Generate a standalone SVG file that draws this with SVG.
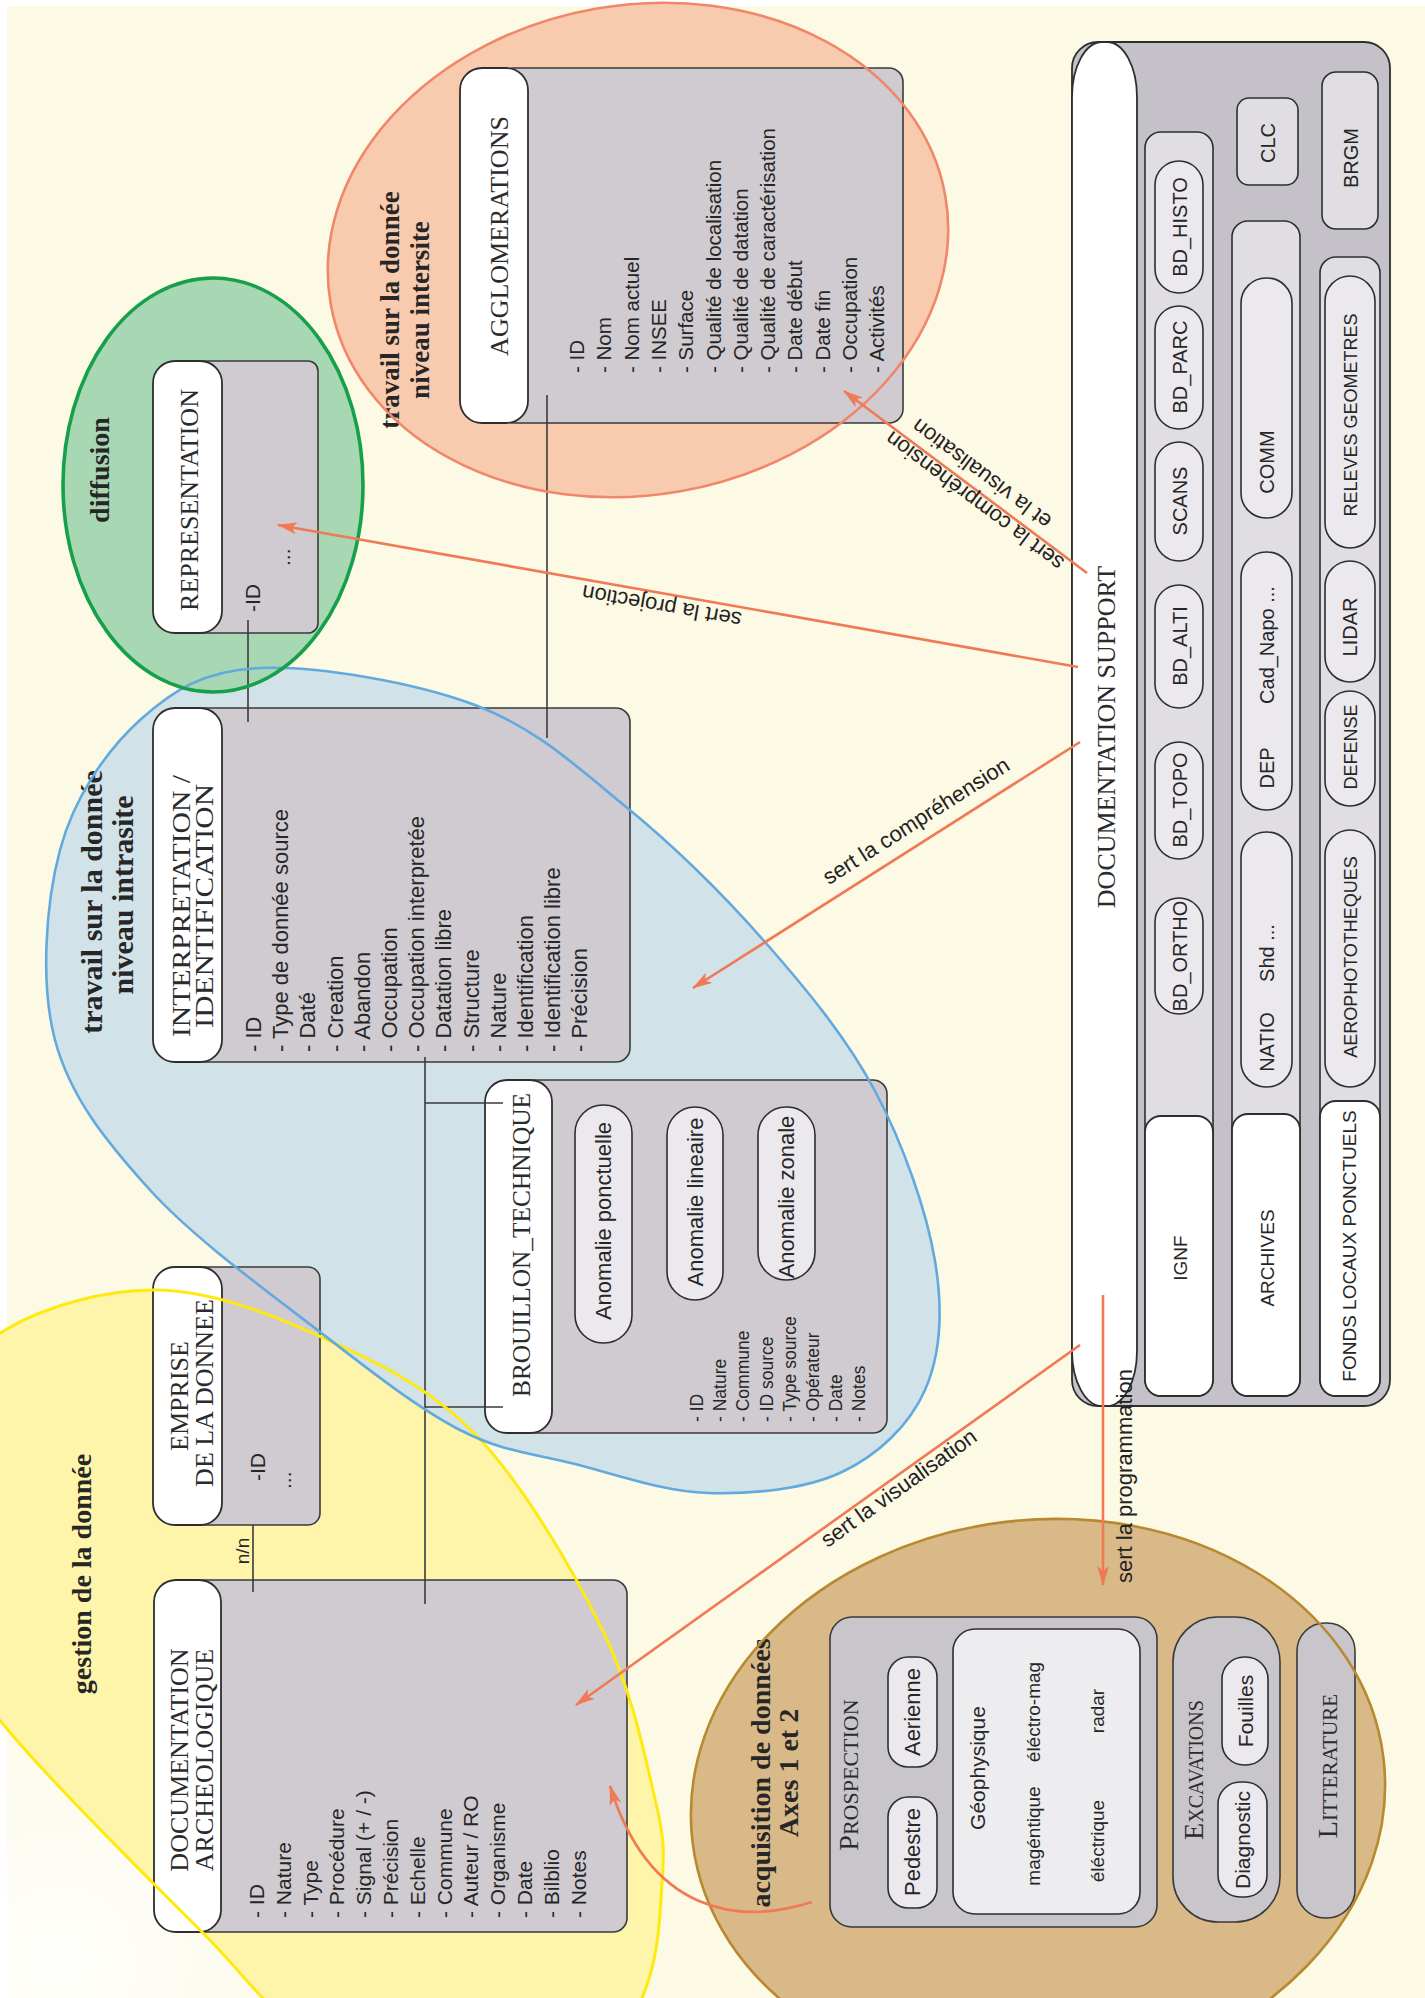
<svg xmlns="http://www.w3.org/2000/svg" width="1425" height="1998" viewBox="0 0 1425 1998">
<defs>
<style>
.body{fill:#CFCBD1;stroke:#3a3a3a;stroke-width:1.6}
.hdr{fill:#FFFFFF;stroke:#2e2e2e;stroke-width:1.8}
.pill{fill:#EBE9EE;stroke:#2e2e2e;stroke-width:1.6}
.strip{fill:#E0DEE3;stroke:#2e2e2e;stroke-width:1.6}
.sbox{fill:#C9C6CB;stroke:#3a3a3a;stroke-width:1.6}
.con{stroke:#3a3a3a;stroke-width:1.6;fill:none}
.arr{stroke:#F07A55;stroke-width:2.6;fill:none;marker-end:url(#ah)}
.title{font-family:"Liberation Serif","Times New Roman",serif;font-size:26px;fill:#2b2b2b}
.sans{font-family:"Liberation Sans",Arial,sans-serif;fill:#262626}
.lab{font-family:"Liberation Serif","Times New Roman",serif;font-weight:bold;fill:#262626}
.alab{font-family:"Liberation Sans",Arial,sans-serif;font-size:22px;fill:#222}
.ol{fill:none}
</style>
<marker id="ah" viewBox="0 0 20 12" refX="19" refY="6" markerWidth="20" markerHeight="12" markerUnits="userSpaceOnUse" orient="auto"><path d="M0,0 L20,6 L0,12 L5,6 Z" fill="#F07A55"/></marker>
<radialGradient id="glow" cx="60" cy="1960" r="330" gradientUnits="userSpaceOnUse">
<stop offset="0" stop-color="#FFFFFF" stop-opacity="0.85"/>
<stop offset="1" stop-color="#FFFFFF" stop-opacity="0"/>
</radialGradient>
</defs>

<rect x="0" y="0" width="1425" height="1998" fill="#FFFFFF"/>
<rect x="7" y="6" width="1418" height="1992" fill="#FCF9E5"/>
<rect x="7" y="1600" width="420" height="398" fill="url(#glow)"/>

<g id="zones">
<path id="zone-gestion" d="M -60,1420 C -48.8,1371.5 -29.2,1350.7 7,1329 C 43.2,1307.3 105.3,1289 157,1290 C 208.7,1291 264,1311 317,1335 C 370,1359 427.5,1385 475,1434 C 522.5,1483 572,1568.2 602,1629 C 632,1689.8 645,1756.5 655,1799 C 665,1841.5 664.2,1850.8 662,1884 C 659.8,1917.2 659,1958.7 642,1998 C 625,2037.3 612,2111.3 560,2120 C 508,2128.7 390,2081.7 330,2050 C 270,2018.3 253.7,1983.3 200,1930 C 146.3,1876.7 51.3,1781.7 8,1730 C -35.3,1678.3 -48.7,1671.7 -60,1620 C -71.3,1568.3 -71.2,1468.5 -60,1420 Z" fill="#FEF5AA"/>
<path id="zone-intrasite" d="M 260,668 C 315.8,665.5 414.2,682 475,705 C 535.8,728 576.7,766.5 625,806 C 673.3,845.5 723.3,894.5 765,942 C 806.7,989.5 846.7,1037.8 875,1091 C 903.3,1144.2 926.7,1211.2 935,1261 C 943.3,1310.8 940.5,1354.8 925,1390 C 909.5,1425.2 878.2,1454.8 842,1472 C 805.8,1489.2 752.5,1494.3 708,1493 C 663.5,1491.7 616.3,1474.5 575,1464 C 533.7,1453.5 502.5,1452 460,1430 C 417.5,1408 371.7,1372 320,1332 C 268.3,1292 194.2,1238.7 150,1190 C 105.8,1141.3 70,1096.7 55,1040 C 40,983.3 45.8,903.3 60,850 C 74.2,796.7 106.7,750.3 140,720 C 173.3,689.7 204.2,670.5 260,668 Z" fill="#D1E3E8"/>
<ellipse id="zone-intersite" cx="638" cy="250" rx="312" ry="245" transform="rotate(-10 638 250)" fill="#F9CBAE"/>
<ellipse id="zone-diffusion" cx="213" cy="485" rx="150" ry="207" fill="#A8D8B3"/>
<ellipse id="zone-acquisition" cx="1038" cy="1800" rx="348" ry="280" transform="rotate(-7 1038 1800)" fill="#D9B988"/>
</g>

<g id="zone-labels">
<text class="lab" font-size="27" text-anchor="middle" x="399" y="310" transform="rotate(-90 399 310)">travail sur la donnée</text>
<text class="lab" font-size="27" text-anchor="middle" x="429" y="310" transform="rotate(-90 429 310)">niveau intersite</text>
<text class="lab" font-size="28" text-anchor="middle" x="109" y="470" transform="rotate(-90 109 470)">diffusion</text>
<text class="lab" font-size="30" text-anchor="middle" x="102" y="902" transform="rotate(-90 102 902)">travail sur la donnée</text>
<text class="lab" font-size="30" text-anchor="middle" x="133" y="895" transform="rotate(-90 133 895)">niveau intrasite</text>
<text class="lab" font-size="28" text-anchor="middle" x="91" y="1574" transform="rotate(-90 91 1574)">gestion de la donnée</text>
<text class="lab" font-size="28" text-anchor="middle" x="770" y="1773" transform="rotate(-90 770 1773)">acquisition de données</text>
<text class="lab" font-size="28" text-anchor="middle" x="798" y="1773" transform="rotate(-90 798 1773)">Axes 1 et 2</text>
</g>

<g id="node-representation">
<rect class="body" x="190" y="361" width="128" height="272" rx="10"/>
<rect class="hdr" x="153" y="361" width="69" height="272" rx="22"/>
<text class="title" text-anchor="middle" x="198" y="500" transform="rotate(-90 198 500)">REPRESENTATION</text>
<text class="sans" font-size="21" x="260" y="612" transform="rotate(-90 260 612)">-ID</text>
<text class="sans" font-size="21" x="290" y="566" transform="rotate(-90 290 566)">...</text>
</g>

<g id="node-agglomerations">
<rect class="body" x="500" y="68" width="403" height="355" rx="14"/>
<rect class="hdr" x="460" y="68" width="68" height="355" rx="22"/>
<text class="title" text-anchor="middle" x="508" y="236" transform="rotate(-90 508 236)">AGGLOMERATIONS</text>
<text class="sans" font-size="20.5" x="584" y="373" transform="rotate(-90 584 373)"><tspan x="584" dy="0">- ID</tspan><tspan x="584" dy="27.3">- Nom</tspan><tspan x="584" dy="27.3">- Nom actuel</tspan><tspan x="584" dy="27.3">- INSEE</tspan><tspan x="584" dy="27.3">- Surface</tspan><tspan x="584" dy="27.3">- Qualité de localisation</tspan><tspan x="584" dy="27.3">- Qualité de datation</tspan><tspan x="584" dy="27.3">- Qualité de caractérisation</tspan><tspan x="584" dy="27.3">- Date début</tspan><tspan x="584" dy="27.3">- Date fin</tspan><tspan x="584" dy="27.3">- Occupation</tspan><tspan x="584" dy="27.3">- Activités</tspan></text>
</g>

<g id="node-interpretation">
<rect class="body" x="190" y="708" width="440" height="354" rx="14"/>
<rect class="hdr" x="153" y="708" width="69" height="354" rx="22"/>
<text class="title" text-anchor="middle" x="190" y="906" transform="rotate(-90 190 906)" textLength="262" lengthAdjust="spacingAndGlyphs">INTERPRETATION /</text>
<text class="title" text-anchor="middle" x="213" y="906" transform="rotate(-90 213 906)" textLength="244" lengthAdjust="spacingAndGlyphs">IDENTIFICATION</text>
<text class="sans" font-size="22" x="261" y="1052" transform="rotate(-90 261 1052)"><tspan x="261" dy="0">- ID</tspan><tspan x="261" dy="27.2">- Type de donnée source</tspan><tspan x="261" dy="27.2">- Daté</tspan><tspan x="261" dy="27.2">- Creation</tspan><tspan x="261" dy="27.2">- Abandon</tspan><tspan x="261" dy="27.2">- Occupation</tspan><tspan x="261" dy="27.2">- Occupation interpretée</tspan><tspan x="261" dy="27.2">- Datation libre</tspan><tspan x="261" dy="27.2">- Structure</tspan><tspan x="261" dy="27.2">- Nature</tspan><tspan x="261" dy="27.2">- Identification</tspan><tspan x="261" dy="27.2">- Identification libre</tspan><tspan x="261" dy="27.2">- Précision</tspan></text>
</g>

<g id="node-emprise">
<rect class="body" x="190" y="1267" width="130" height="258" rx="12"/>
<rect class="hdr" x="153" y="1267" width="69" height="258" rx="22"/>
<text class="title" text-anchor="middle" x="188" y="1396" transform="rotate(-90 188 1396)">EMPRISE</text>
<text class="title" text-anchor="middle" x="213" y="1393" transform="rotate(-90 213 1393)">DE LA DONNEE</text>
<text class="sans" font-size="21" x="265" y="1481" transform="rotate(-90 265 1481)">-ID</text>
<text class="sans" font-size="21" x="291" y="1489" transform="rotate(-90 291 1489)">...</text>
</g>

<g id="node-brouillon">
<rect class="body" x="520" y="1080" width="367" height="353" rx="14"/>
<rect class="hdr" x="485" y="1080" width="67" height="353" rx="22"/>
<text class="title" text-anchor="middle" x="530" y="1245" transform="rotate(-90 530 1245)" textLength="304" lengthAdjust="spacingAndGlyphs">BROUILLON_TECHNIQUE</text>
<rect class="pill" x="575" y="1105" width="57" height="238" rx="28"/>
<rect class="pill" x="667" y="1107" width="56" height="193" rx="28"/>
<rect class="pill" x="758" y="1107" width="57" height="173" rx="28"/>
<text class="sans" font-size="22" text-anchor="middle" x="611" y="1221" transform="rotate(-90 611 1221)">Anomalie ponctuelle</text>
<text class="sans" font-size="22" text-anchor="middle" x="703" y="1202" transform="rotate(-90 703 1202)">Anomalie lineaire</text>
<text class="sans" font-size="22" text-anchor="middle" x="794" y="1197" transform="rotate(-90 794 1197)">Anomalie zonale</text>
<text class="sans" font-size="17.5" x="703" y="1422" transform="rotate(-90 703 1422)"><tspan x="703" dy="0">- ID</tspan><tspan x="703" dy="23.2">- Nature</tspan><tspan x="703" dy="23.2">- Commune</tspan><tspan x="703" dy="23.2">- ID source</tspan><tspan x="703" dy="23.2">- Type source</tspan><tspan x="703" dy="23.2">- Opérateur</tspan><tspan x="703" dy="23.2">- Date</tspan><tspan x="703" dy="23.2">- Notes</tspan></text>
</g>

<g id="node-doc-archeologique">
<rect class="body" x="190" y="1580" width="437" height="352" rx="14"/>
<rect class="hdr" x="154" y="1580" width="67" height="352" rx="22"/>
<text class="title" text-anchor="middle" x="188" y="1760" transform="rotate(-90 188 1760)">DOCUMENTATION</text>
<text class="title" text-anchor="middle" x="213" y="1760" transform="rotate(-90 213 1760)">ARCHEOLOGIQUE</text>
<text class="sans" font-size="21" x="264" y="1918" transform="rotate(-90 264 1918)"><tspan x="264" dy="0">- ID</tspan><tspan x="264" dy="26.8">- Nature</tspan><tspan x="264" dy="26.8">- Type</tspan><tspan x="264" dy="26.8">- Procédure</tspan><tspan x="264" dy="26.8">- Signal (+ / -)</tspan><tspan x="264" dy="26.8">- Précision</tspan><tspan x="264" dy="26.8">- Echelle</tspan><tspan x="264" dy="26.8">- Commune</tspan><tspan x="264" dy="26.8">- Auteur / RO</tspan><tspan x="264" dy="26.8">- Organisme</tspan><tspan x="264" dy="26.8">- Date</tspan><tspan x="264" dy="26.8">- Bilblio</tspan><tspan x="264" dy="26.8">- Notes</tspan></text>
</g>

<g id="node-doc-support">
<rect x="1072" y="42" width="318" height="1364" rx="26" fill="#C4C2C8" stroke="#2e2e2e" stroke-width="1.8"/>
<rect x="1072" y="42" width="65" height="1364" rx="30" ry="55" fill="#FFFFFF" stroke="#2e2e2e" stroke-width="1.8"/>
<text class="title" text-anchor="middle" x="1115" y="737" transform="rotate(-90 1115 737)">DOCUMENTATION SUPPORT</text>
<rect class="strip" x="1145" y="132" width="68" height="1264" rx="16"/>
<rect class="strip" x="1232" y="221" width="68" height="1175" rx="16"/>
<rect class="strip" x="1320" y="257" width="60" height="1139" rx="16"/>
<rect class="hdr" x="1145" y="1116" width="68" height="280" rx="16"/>
<rect class="hdr" x="1232" y="1114" width="68" height="282" rx="16"/>
<rect class="hdr" x="1320" y="1101" width="60" height="295" rx="16"/>
<rect class="strip" x="1237" y="98" width="61" height="87" rx="12"/>
<rect class="strip" x="1322" y="72" width="56" height="157" rx="14"/>
<rect class="pill" x="1155" y="161" width="48" height="132" rx="24"/>
<rect class="pill" x="1155" y="306" width="48" height="123" rx="24"/>
<rect class="pill" x="1155" y="442" width="48" height="119" rx="24"/>
<rect class="pill" x="1155" y="585" width="48" height="123" rx="24"/>
<rect class="pill" x="1155" y="742" width="48" height="117" rx="24"/>
<rect class="pill" x="1155" y="898" width="48" height="116" rx="24"/>
<rect class="pill" x="1241" y="278" width="51" height="240" rx="25"/>
<rect class="pill" x="1241" y="552" width="51" height="258" rx="25"/>
<rect class="pill" x="1241" y="832" width="51" height="255" rx="25"/>
<rect class="pill" x="1325" y="276" width="50" height="272" rx="25"/>
<rect class="pill" x="1325" y="561" width="50" height="121" rx="25"/>
<rect class="pill" x="1325" y="691" width="50" height="115" rx="25"/>
<rect class="pill" x="1325" y="830" width="50" height="257" rx="25"/>
<g class="sans" font-size="20" text-anchor="middle">
<text x="1187" y="227" transform="rotate(-90 1187 227)">BD_HISTO</text>
<text x="1187" y="367" transform="rotate(-90 1187 367)">BD_PARC</text>
<text x="1187" y="501" transform="rotate(-90 1187 501)">SCANS</text>
<text x="1187" y="646" transform="rotate(-90 1187 646)">BD_ALTI</text>
<text x="1187" y="800" transform="rotate(-90 1187 800)">BD_TOPO</text>
<text x="1187" y="956" transform="rotate(-90 1187 956)">BD_ORTHO</text>
<text x="1274" y="462" transform="rotate(-90 1274 462)">COMM</text>
<text x="1274" y="645" transform="rotate(-90 1274 645)">Cad_Napo ...</text>
<text x="1274" y="768" transform="rotate(-90 1274 768)">DEP</text>
<text x="1274" y="953" transform="rotate(-90 1274 953)">Shd ...</text>
<text x="1274" y="1042" transform="rotate(-90 1274 1042)">NATIO</text>
<text x="1275" y="143" transform="rotate(-90 1275 143)">CLC</text>
<text x="1358" y="158" transform="rotate(-90 1358 158)">BRGM</text>
<text x="1357" y="627" transform="rotate(-90 1357 627)">LIDAR</text>
</g>
<g class="sans" font-size="18" text-anchor="middle">
<text x="1357" y="415" transform="rotate(-90 1357 415)">RELEVES GEOMETRES</text>
<text x="1357" y="747" transform="rotate(-90 1357 747)">DEFENSE</text>
<text x="1357" y="957" transform="rotate(-90 1357 957)">AEROPHOTOTHEQUES</text>
</g>
<g class="sans" font-size="19" text-anchor="middle">
<text x="1187" y="1258" transform="rotate(-90 1187 1258)">IGNF</text>
<text x="1274" y="1258" transform="rotate(-90 1274 1258)">ARCHIVES</text>
<text x="1356" y="1246" transform="rotate(-90 1356 1246)">FONDS LOCAUX PONCTUELS</text>
</g>
</g>

<g id="node-prospection">
<rect class="sbox" x="830" y="1617" width="327" height="310" rx="22"/>
<text class="title" text-anchor="middle" x="858" y="1775" transform="rotate(-90 858 1775)"><tspan font-size="28">P</tspan><tspan font-size="22">ROSPECTION</tspan></text>
<rect class="pill" x="888" y="1797" width="49" height="111" rx="20"/>
<rect class="pill" x="888" y="1657" width="49" height="110" rx="20"/>
<text class="sans" font-size="22" text-anchor="middle" x="920" y="1852" transform="rotate(-90 920 1852)">Pedestre</text>
<text class="sans" font-size="22" text-anchor="middle" x="920" y="1712" transform="rotate(-90 920 1712)">Aerienne</text>
<rect x="953" y="1629" width="187" height="285" rx="22" fill="#EDECEF" stroke="#2e2e2e" stroke-width="1.6"/>
<text class="sans" font-size="21" text-anchor="middle" x="985" y="1768" transform="rotate(-90 985 1768)">Géophysique</text>
<text class="sans" font-size="19" text-anchor="middle" x="1040" y="1836" transform="rotate(-90 1040 1836)">magéntique</text>
<text class="sans" font-size="19" text-anchor="middle" x="1040" y="1712" transform="rotate(-90 1040 1712)">éléctro-mag</text>
<text class="sans" font-size="19" text-anchor="middle" x="1104" y="1841" transform="rotate(-90 1104 1841)">éléctrique</text>
<text class="sans" font-size="19" text-anchor="middle" x="1104" y="1711" transform="rotate(-90 1104 1711)">radar</text>
</g>

<g id="node-excavations">
<rect class="sbox" x="1173" y="1617" width="107" height="305" rx="45"/>
<text class="title" text-anchor="middle" x="1203" y="1770" transform="rotate(-90 1203 1770)"><tspan font-size="28">E</tspan><tspan font-size="20">XCAVATIONS</tspan></text>
<rect class="pill" x="1218" y="1782" width="49" height="115" rx="22"/>
<rect class="pill" x="1222" y="1657" width="46" height="108" rx="22"/>
<text class="sans" font-size="21" text-anchor="middle" x="1250" y="1840" transform="rotate(-90 1250 1840)">Diagnostic</text>
<text class="sans" font-size="21" text-anchor="middle" x="1253" y="1711" transform="rotate(-90 1253 1711)">Fouilles</text>
</g>

<g id="node-litterature">
<rect class="sbox" x="1297" y="1623" width="58" height="295" rx="28"/>
<text class="title" text-anchor="middle" x="1337" y="1766" transform="rotate(-90 1337 1766)"><tspan font-size="28">L</tspan><tspan font-size="21">ITTERATURE</tspan></text>
</g>

<g id="connectors">
<line class="con" x1="248" y1="620" x2="248" y2="722"/>
<line class="con" x1="547" y1="395" x2="547" y2="738"/>
<line class="con" x1="425" y1="1057" x2="425" y2="1604"/>
<line class="con" x1="425" y1="1103" x2="503" y2="1103"/>
<line class="con" x1="425" y1="1407" x2="503" y2="1407"/>
<line class="con" x1="253" y1="1525" x2="253" y2="1592"/>
<text class="sans" font-size="19" text-anchor="middle" x="249" y="1551" transform="rotate(-90 249 1551)">n/n</text>
</g>

<g id="zone-outlines" class="ol">
<path d="M -60,1420 C -48.8,1371.5 -29.2,1350.7 7,1329 C 43.2,1307.3 105.3,1289 157,1290 C 208.7,1291 264,1311 317,1335 C 370,1359 427.5,1385 475,1434 C 522.5,1483 572,1568.2 602,1629 C 632,1689.8 645,1756.5 655,1799 C 665,1841.5 664.2,1850.8 662,1884 C 659.8,1917.2 659,1958.7 642,1998 C 625,2037.3 612,2111.3 560,2120 C 508,2128.7 390,2081.7 330,2050 C 270,2018.3 253.7,1983.3 200,1930 C 146.3,1876.7 51.3,1781.7 8,1730 C -35.3,1678.3 -48.7,1671.7 -60,1620 C -71.3,1568.3 -71.2,1468.5 -60,1420 Z" stroke="#FFEA10" stroke-width="3"/>
<path d="M 260,668 C 315.8,665.5 414.2,682 475,705 C 535.8,728 576.7,766.5 625,806 C 673.3,845.5 723.3,894.5 765,942 C 806.7,989.5 846.7,1037.8 875,1091 C 903.3,1144.2 926.7,1211.2 935,1261 C 943.3,1310.8 940.5,1354.8 925,1390 C 909.5,1425.2 878.2,1454.8 842,1472 C 805.8,1489.2 752.5,1494.3 708,1493 C 663.5,1491.7 616.3,1474.5 575,1464 C 533.7,1453.5 502.5,1452 460,1430 C 417.5,1408 371.7,1372 320,1332 C 268.3,1292 194.2,1238.7 150,1190 C 105.8,1141.3 70,1096.7 55,1040 C 40,983.3 45.8,903.3 60,850 C 74.2,796.7 106.7,750.3 140,720 C 173.3,689.7 204.2,670.5 260,668 Z" stroke="#62A9DE" stroke-width="2.6"/>
<ellipse cx="638" cy="250" rx="312" ry="245" transform="rotate(-10 638 250)" stroke="#F0876A" stroke-width="2.6"/>
<ellipse cx="213" cy="485" rx="150" ry="207" stroke="#16A04B" stroke-width="3.6"/>
<ellipse cx="1038" cy="1800" rx="348" ry="280" transform="rotate(-7 1038 1800)" stroke="#B8892F" stroke-width="2.6"/>
</g>

<g id="arrows">
<line class="arr" x1="1078" y1="667" x2="278" y2="525"/>
<line class="arr" x1="1087" y1="573" x2="844" y2="391"/>
<line class="arr" x1="1080" y1="742" x2="693" y2="988"/>
<line class="arr" x1="1080" y1="1345" x2="576" y2="1705"/>
<line class="arr" x1="1103" y1="1295" x2="1103" y2="1585"/>
<path class="arr" d="M812,1902 C740,1925 650,1915 610,1786"/>
<text class="alab" text-anchor="middle" x="663" y="599" transform="rotate(190 663 599)">sert la projection</text>
<text class="alab" text-anchor="middle" x="986" y="468" transform="rotate(216.87 986 468)">et la visualisation</text>
<text class="alab" text-anchor="middle" x="979" y="495" transform="rotate(216.87 979 495)">sert la compréhension</text>
<text class="alab" text-anchor="middle" x="920" y="827" transform="rotate(-32.5 920 827)">sert la compréhension</text>
<text class="alab" text-anchor="middle" x="903" y="1494" transform="rotate(-35.6 903 1494)">sert la visualisation</text>
<text class="alab" x="1132" y="1583" transform="rotate(-90 1132 1583)">sert la programmation</text>
</g>
</svg>
